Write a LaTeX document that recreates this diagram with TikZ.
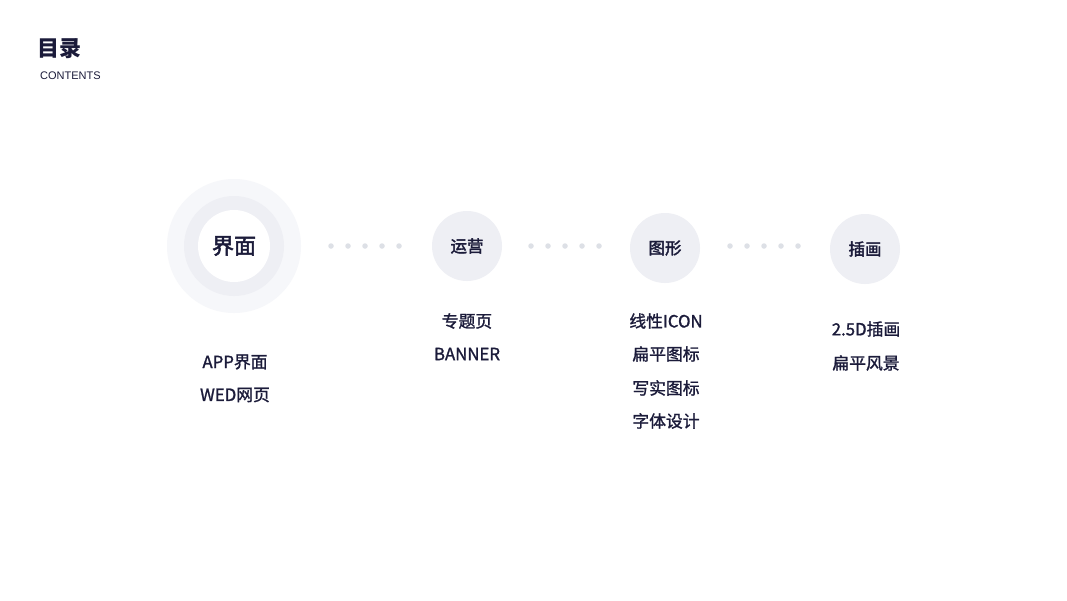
\documentclass[tikz,border=0pt]{standalone}
\usepackage{fontspec}
\newfontfamily\cjk{Noto Sans CJK SC}
\newfontfamily\cjkm[FakeBold=1.3]{Noto Sans CJK SC}
\newfontfamily\cjkh[FakeBold=2.2]{Noto Sans CJK SC}
\setmainfont{Noto Sans CJK SC}
\setsansfont{Liberation Sans}
\definecolor{ink}{HTML}{1B1B3A}
\definecolor{ringout}{HTML}{F6F7FA}
\definecolor{ringmid}{HTML}{EEEFF4}
\definecolor{disc}{HTML}{EEEFF4}
\definecolor{dotc}{HTML}{DDE0E6}
\begin{document}
\begin{tikzpicture}[x=1pt,y=-1pt,
  disk/.style={circle,fill=disc,minimum size=70pt,inner sep=0pt,text=ink,font=\cjkh\fontsize{16.5}{18}\selectfont},
  dotn/.style={circle,fill=dotc,minimum size=5.5pt,inner sep=0pt},
  item/.style={text=ink,font=\cjkm\fontsize{16.8}{18}\selectfont,inner sep=0pt,anchor=center}]
\useasboundingbox (0,0) rectangle (1067,600);
\fill[white] (0,0) rectangle (1067,600);
% title
\node[text=ink,font=\cjk\fontsize{22}{24}\selectfont\bfseries,anchor=west,inner sep=0pt] (title) at (37,49) {目录};
\node[text=ink,font=\sffamily\fontsize{11}{12}\selectfont,anchor=west,inner sep=0pt] (sub) at (40,76) {CONTENTS};
% first circle
\node[circle,fill=ringout,minimum size=134pt,inner sep=0pt] (c1o) at (234,246) {};
\node[circle,fill=ringmid,minimum size=100pt,inner sep=0pt] (c1m) at (234,246) {};
\node[circle,fill=white,minimum size=72pt,inner sep=0pt,text=ink,font=\cjkh\fontsize{22}{24}\selectfont] (c1) at (234,246) {界面};
% other circles
\node[disk] (c2) at (467,246) {运营};
\node[disk] (c3) at (665,248) {图形};
\node[disk] (c4) at (865,249) {插画};
% dots
\foreach \i in {0,...,4}{
  \node[dotn] (da\i) at (331+17*\i,246) {};
  \node[dotn] (db\i) at (531+17*\i,246) {};
  \node[dotn] (dc\i) at (730+17*\i,246) {};
}
% lists
\node[item] (a1) at (235,362) {APP界面};
\node[item] (a2) at (235,395) {WED网页};
\node[item] (b1) at (467,321) {专题页};
\node[item] (b2) at (467,354) {BANNER};
\node[item] (e1) at (666,321) {线性ICON};
\node[item] (e2) at (666,354) {扁平图标};
\node[item] (e3) at (666,388) {写实图标};
\node[item] (e4) at (666,421) {字体设计};
\node[item] (f1) at (866,329) {2.5D插画};
\node[item] (f2) at (866,363) {扁平风景};
\end{tikzpicture}
\end{document}
